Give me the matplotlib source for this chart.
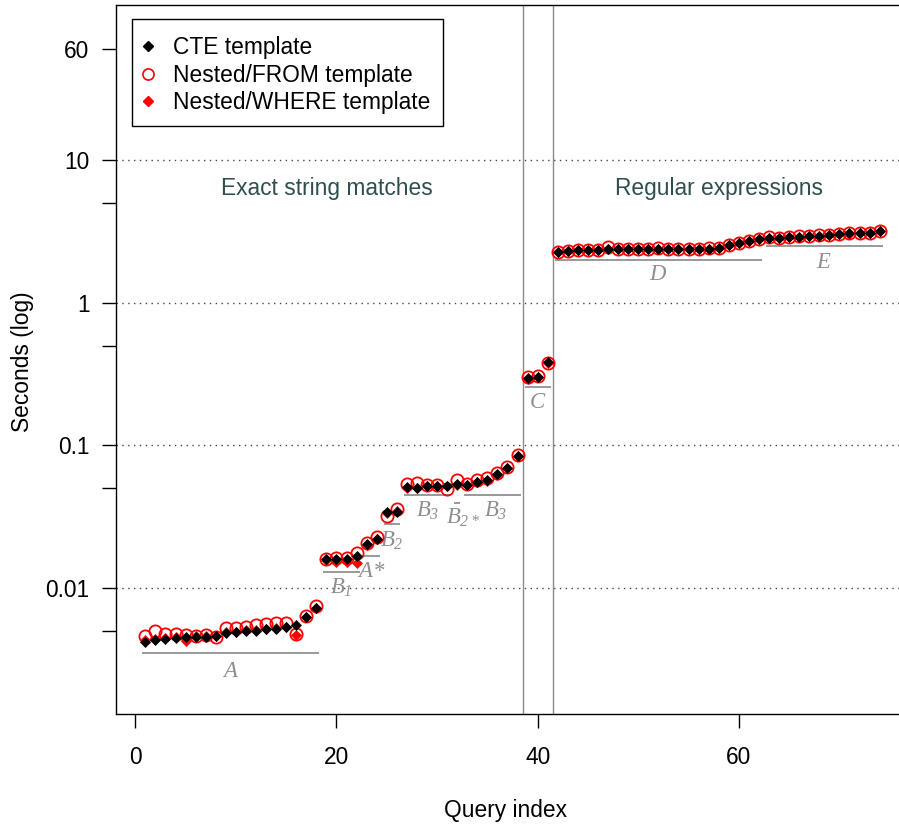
import matplotlib
matplotlib.use("Agg")
import matplotlib.pyplot as plt
from matplotlib.patches import Rectangle
from matplotlib.lines import Line2D

plt.rcParams["font.family"] = ["Liberation Sans", "DejaVu Sans"]
plt.rcParams["mathtext.fontset"] = "custom"
plt.rcParams["mathtext.it"] = "Liberation Serif:italic"
plt.rcParams["mathtext.rm"] = "Liberation Serif:italic"
plt.rcParams["mathtext.default"] = "it"

# Query runtimes in seconds, one value per query (index 1..74)
query_index = list(range(1, 75))

cte_seconds = [
    0.00421, 0.00433, 0.00437, 0.00444, 0.00451, 0.00456, 0.00456, 0.00461, 0.00481, 0.00489,
    0.00500, 0.00502, 0.00513, 0.00519, 0.00530, 0.00550, 0.00624, 0.00722, 0.0160, 0.0160,
    0.0160, 0.0167, 0.0202, 0.0219, 0.0339, 0.0342, 0.0508, 0.0500, 0.0518, 0.0518,
    0.0518, 0.0535, 0.0527, 0.0556, 0.0570, 0.0626, 0.0691, 0.0837, 0.295, 0.303,
    0.382, 2.275, 2.30, 2.325, 2.337, 2.337, 2.375, 2.362, 2.362, 2.362,
    2.362, 2.388, 2.375, 2.362, 2.362, 2.375, 2.388, 2.40, 2.533, 2.603,
    2.703, 2.791, 2.852, 2.852, 2.883, 2.897, 2.913, 2.944, 2.976, 3.025,
    3.057, 3.074, 3.09, 3.175,
]

nested_from_seconds = [
    0.00461, 0.00498, 0.00476, 0.00476, 0.00468, 0.00461, 0.00468, 0.00456, 0.00527, 0.00522,
    0.00536, 0.00550, 0.00560, 0.00572, 0.00566, 0.00476, 0.00637, 0.00748, 0.0160, 0.0162,
    0.0162, 0.0175, 0.0206, 0.0226, 0.0321, 0.0356, 0.0535, 0.0545, 0.0525, 0.0525,
    0.0492, 0.0570, 0.0540, 0.0575, 0.0590, 0.0640, 0.0700, 0.0850, 0.300, 0.305,
    0.380, 2.28, 2.31, 2.33, 2.34, 2.35, 2.45, 2.37, 2.37, 2.37,
    2.37, 2.42, 2.38, 2.37, 2.37, 2.38, 2.40, 2.41, 2.55, 2.62,
    2.72, 2.80, 2.87, 2.86, 2.89, 2.91, 2.92, 2.96, 2.99, 3.04,
    3.07, 3.09, 3.10, 3.20,
]

nested_where_seconds = [
    0.00430, 0.00440, 0.00445, 0.00450, 0.00428, 0.00458, 0.00460, 0.00462, 0.00490, 0.00495,
    0.00505, 0.00510, 0.00520, 0.00525, 0.00535, 0.00468, 0.00630, 0.00730, 0.0158, 0.0153,
    0.0153, 0.0150, 0.0200, 0.0220, 0.0335, 0.0345, 0.0500, 0.0505, 0.0515, 0.0515,
    0.0515, 0.0530, 0.0525, 0.0550, 0.0565, 0.0620, 0.0690, 0.0835, 0.293, 0.302,
    0.380, 2.27, 2.30, 2.32, 2.33, 2.34, 2.37, 2.36, 2.36, 2.36,
    2.36, 2.38, 2.37, 2.36, 2.36, 2.37, 2.38, 2.40, 2.53, 2.60,
    2.70, 2.79, 2.85, 2.85, 2.88, 2.89, 2.91, 2.94, 2.97, 3.02,
    3.05, 3.07, 3.09, 3.17,
]

# Query groups: label, first index, last index
group_labels = ["$A$", "$B_1$", "$A{*}$", "$B_2$", "$B_3$", "$B_{2*}$", "$B_3$", "$C$", "$D$", "$E$"]
group_first = [1, 19, 23, 25, 27, 32, 33, 39, 42, 63]
group_last = [18, 22, 24, 26, 31, 32, 38, 41, 62, 74]
# vertical placement of each group's bar and label (seconds)
group_bar_y = [0.00350, 0.01294, 0.01675, 0.0281, 0.0448, 0.0394, 0.0448, 0.256, 1.988, 2.50]
group_label_y = [0.00266, 0.01016, 0.01337, 0.0217, 0.0352, 0.0314, 0.0352, 0.2044, 1.612, 1.93]
group_label_dx = [0, 0, 0, 0, 0.1, 0.6, 0.3, 0, 0, 0]

section_titles = ["Exact string matches", "Regular expressions"]
section_title_x = [19.0, 58.0]
section_split = [38.5, 41.5]

y_major = [0.01, 0.1, 1, 10, 60]
y_major_labels = ["0.01", "0.1", "1", "10", "60"]
y_minor = [0.005, 0.05, 0.5, 5]
x_ticks = [0, 20, 40, 60]

FS = 16.4

W, H = 899, 827
fig = plt.figure(figsize=(W / 100, H / 100), dpi=100)
ax_l, ax_r, ax_t, ax_b = 116, 909, 5, 714
ax = fig.add_axes([ax_l / W, 1 - ax_b / H, (ax_r - ax_l) / W, (ax_b - ax_t) / H])
ax.set_yscale("log")
ax.set_xlim(-1.92, 76.92)
ax.set_ylim(10 ** -2.883, 10 ** 2.086)

# reference lines
for v in [0.01, 0.1, 1, 10]:
    ax.axhline(v, color="#444444", lw=1.0, ls=(0, (1, 3.2)), zorder=1)
for xv in section_split:
    ax.axvline(xv, color="#8c8c8c", lw=1.0, zorder=1)

# group bars and labels
for lab, a, b, yb, yl, dx in zip(group_labels, group_first, group_last,
                                 group_bar_y, group_label_y, group_label_dx):
    ax.plot([a - 0.3, b + 0.3], [yb, yb], color="#999999", lw=1.4, zorder=2,
            solid_capstyle="butt")
    ax.text((a + b) / 2 + dx, yl, lab, color="#8f8f8f", fontsize=FS,
            ha="center", va="center", zorder=2)

for t, xv in zip(section_titles, section_title_x):
    ax.text(xv, 6.32, t, color="#2f4f4f", fontsize=FS, ha="center", va="center")

# data points
ax.plot(query_index, nested_from_seconds, ls="none", marker="o", ms=8.8,
        mfc="none", mec="#ff0000", mew=1.3, zorder=3)
ax.plot(query_index, nested_where_seconds, ls="none", marker="D", ms=5.6,
        mfc="#ff0000", mec="#ff0000", mew=0.5, zorder=4)
ax.plot(query_index, cte_seconds, ls="none", marker="D", ms=5.6,
        mfc="black", mec="black", mew=0.5, zorder=5)

# axes styling
for s in ax.spines.values():
    s.set_linewidth(1.0)
ax.set_yticks(y_major + y_minor)
ax.set_yticklabels(y_major_labels + [""] * len(y_minor))
ax.yaxis.set_minor_locator(matplotlib.ticker.NullLocator())
ax.set_xticks(x_ticks)
ax.set_xticklabels([str(v) for v in x_ticks])
ax.tick_params(axis="both", direction="out", length=10, width=1.0, labelsize=FS)
ax.tick_params(axis="x", pad=13)
ax.tick_params(axis="y", pad=9)

fig.text(22 / W, 1 - 362 / H, "Seconds (log)", rotation=90, ha="center", va="center", fontsize=FS)
fig.text(505 / W, 1 - 811 / H, "Query index", ha="center", va="center", fontsize=FS)

# legend
handles = [
    Line2D([], [], ls="none", marker="D", ms=5.0, mfc="black", mec="black"),
    Line2D([], [], ls="none", marker="o", ms=8.0, mfc="none", mec="#ff0000", mew=1.2),
    Line2D([], [], ls="none", marker="D", ms=5.0, mfc="#ff0000", mec="#ff0000"),
]
labels = ["CTE template", "Nested/FROM template", "Nested/WHERE template"]
aw, ah = ax_r - ax_l, ax_b - ax_t
ax.add_patch(Rectangle(((132 - ax_l) / aw, (ax_b - 126) / ah), (443 - 132) / aw, (126 - 19) / ah,
                       transform=ax.transAxes, fill=True, facecolor="white",
                       edgecolor="black", lw=1.0, zorder=6))
leg = ax.legend(handles, labels, loc="upper left",
                bbox_to_anchor=((137 - ax_l) / aw, (ax_b - 36) / ah),
                frameon=False, borderpad=0, borderaxespad=0, handlelength=1.0,
                handletextpad=0.6, labelspacing=0.2, fontsize=FS)
leg.set_zorder(7)

fig.savefig("out.png", dpi=100)
